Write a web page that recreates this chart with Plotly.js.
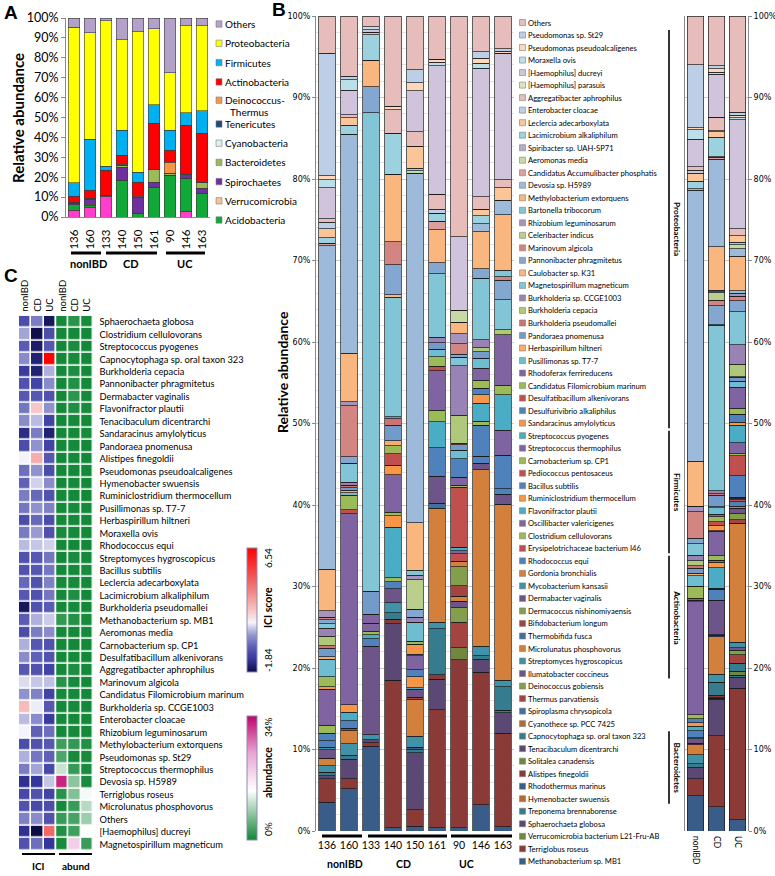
<!DOCTYPE html>
<html><head><meta charset="utf-8">
<script src="https://cdn.plot.ly/plotly-3.0.1.min.js"></script>
<style>body{margin:0;background:#fff}#chart{width:775px;height:876px}</style>
</head><body><div id="chart"></div>
<script>
// ---------------- DATA ----------------
const samples = ['136','160','133','140','150','161','90','146','163'];
const groups = ['nonIBD','CD','UC'];

// Panel A: phylum-level relative abundance (%), samples in order above
const phyla = ['Euryarchaeota','Acidobacteria','Verrucomicrobia','Spirochaetes','Bacteroidetes','Cyanobacteria','Tenericutes','Deinococcus-Thermus','Actinobacteria','Firmicutes','Proteobacteria','Others'];
const aEury    = [3.5, 5.0, 10.5, 0, 0, 0, 0, 3.0, 0];
const aAcido   = [2.7, 1.0, 0.5, 18.5, 2.0, 15.0, 21.0, 16.5, 12.0];
const aVerruco = [0, 0.5, 0, 0, 0, 0, 0, 0, 0];
const aSpiro   = [0.7, 2.5, 0, 6.5, 8.0, 2.5, 0, 2.0, 2.5];
const aBactero = [0.5, 0.5, 0, 1.0, 0, 6.5, 1.0, 0, 3.0];
const aCyano   = [0, 0, 0, 0, 0, 0, 0, 0, 0];
const aTeneri  = [0, 0, 0, 0, 0, 0, 0, 0, 0];
const aDeino   = [0, 0, 0, 0.5, 0.5, 0, 5.5, 0, 0];
const aActino  = [3.0, 4.0, 12.5, 4.5, 7.0, 23.0, 6.0, 24.5, 24.5];
const aFirmi   = [6.8, 25.5, 2.0, 12.5, 5.0, 9.5, 10.0, 6.5, 11.5];
const aProteo  = [78.2, 53.5, 73.0, 45.5, 70.5, 38.0, 29.0, 43.5, 42.5];
const aOthers  = [4.6, 7.5, 1.5, 11.0, 7.0, 5.5, 27.5, 4.0, 4.0];

// Panel B/D: species, listed from bottom of the stack to the top
const species = ['Methanobacterium sp. MB1','Terriglobus roseus','Verrucomicrobia bacterium L21-Fru-AB','Sphaerochaeta globosa','Treponema brennaborense','Hymenobacter swuensis','Rhodothermus marinus','Alistipes finegoldii','Solitalea canadensis','Tenacibaculum dicentrarchi','Capnocytophaga sp. oral taxon 323','Cyanothece sp. PCC 7425','Spiroplasma chrysopicola','Thermus parvatiensis','Deinococcus gobiensis','Ilumatobacter coccineus','Streptomyces hygroscopicus','Microlunatus phosphovorus','Thermobifida fusca','Bifidobacterium longum','Dermacoccus nishinomiyaensis','Dermabacter vaginalis','Mycobacterium kansasii','Gordonia bronchialis','Rhodococcus equi','Erysipelotrichaceae bacterium I46','Clostridium cellulovorans','Oscillibacter valericigenes','Flavonifractor plautii','Ruminiclostridium thermocellum','Bacillus subtilis','Pediococcus pentosaceus','Carnobacterium sp. CP1','Streptococcus thermophilus','Streptococcus pyogenes','Sandaracinus amylolyticus','Desulfurivibrio alkaliphilus','Desulfatibacillum alkenivorans','Candidatus Filomicrobium marinum','Rhodoferax ferrireducens','Pusillimonas sp. T7-7','Herbaspirillum hiltneri','Pandoraea pnomenusa','Burkholderia pseudomallei','Burkholderia cepacia','Burkholderia sp. CCGE1003','Magnetospirillum magneticum','Caulobacter sp. K31','Pannonibacter phragmitetus','Marinovum algicola','Celeribacter indicus','Rhizobium leguminosarum','Bartonella tribocorum','Methylobacterium extorquens','Devosia sp. H5989','Candidatus Accumulibacter phosphatis','Aeromonas media','Spiribacter sp. UAH-SP71','Lacimicrobium alkaliphilum','Leclercia adecarboxylata','Enterobacter cloacae','Aggregatibacter aphrophilus','[Haemophilus] parasuis','[Haemophilus] ducreyi','Moraxella ovis','Pseudomonas pseudoalcaligenes','Pseudomonas sp. St29','Others'];

// per-sample species abundance (%), same order as species
const s136 = [3.5,2.9,0,0.4,0.4,0,0,0,0,0, 0,0,0,0,0,0,0.8,0.9,0,0, 0,1.1,0.3,0,0.8,0,0,0,0,0, 0.9,0,1.0,4.4,0,0.3,0,0,1.2,0, 2.2,0.3,1.0,0.3,1.2,1.0,0.5,0,0.5,0.3, 0,0.8,0,5.1,39.7,0.3,0,0,0.7,1.1, 0.8,0.4,0,3.8,1.0,0.5,15.0,4.6];
const s160 = [5.2,1.2,0,2.4,0.5,0,0,0,0,0, 0,0,0,0,0,0,1.4,1.6,0,0.3, 0,0,0,0,0.9,0,0,0,1.1,0.9, 0,0,0,23.4,0,0,0,0.5,1.8,0, 0.3,0.3,0.3,0.3,0,0.4,2.3,0,0.8,6.3, 0,0.5,0,5.9,26.9,0,0,0,1.1,0.9, 0,0.4,0,3.0,1.3,0,0.4,7.4];
const s133 = [10.4,0.4,0,0.4,0,0,0,0,0,0, 0,0,0,0,0,0,0.6,0,0,0, 0,10.9,0,0,0.9,0,0,0,0.5,0, 0,0,0.4,1.0,0,0,0,0,0,1.1, 0,0,2.8,0,0,0,58.7,0,3.2,0, 0,0,0,3.3,0,0,0,0,3.1,0, 0,0.3,0,0.3,0.4,0,0,1.3];
const s140 = [0.4,18.1,0,6.9,0,0,0,0.6,0,0, 0.8,0,0,0,0,0,1.2,0,0,0, 0,1.7,0,0,0.9,0,0.5,0,6.2,1.4, 0,0,0.4,4.6,0,1.2,0,1.4,1.0,0, 0,0.6,1.9,0.8,0,0.2,14.7,0.3,3.7,2.8, 0,0,0,8.3,0,0,0,0,5.0,0, 0,2.9,0,0,0,0.4,0,11.1];
const s150 = [0.6,2.0,0,7.0,0.4,0,0.3,0,0,0, 0,0,0,0,0,0,1.3,4.5,0,0.3, 0,1.0,0,0,0,0,0,0,0.2,1.3, 0.9,0,0,1.7,0.2,1.2,0,0,0.4,0, 2.3,0,0,0,0,0.6,0,0,1.0,0, 3.6,0.6,0.6,5.8,42.9,0,0.3,0,0.3,2.7, 0,1.8,0,5.0,0,1.0,1.6,6.6];
const s161 = [0.4,14.5,0,3.7,0,0,0,0.6,0,0, 5.6,0,0,0,0,0,0.8,14.0,0.6,0, 0,3.3,0,0,3.5,0,0,0,3.2,0, 0,0,1.4,4.9,0,0,0,0.5,1.2,0, 0.9,0,0.8,0,0,0.7,7.8,0,1.3,0, 0,0,0,4.1,0,1.0,0,0,1.0,0, 0.5,1.8,0,15.8,0.4,0.4,0,5.3];
const s90  = [0.4,20.6,0,0,0,0,0,0,1.5,0, 0,0,0,3.1,1.8,0.8,0,0.6,0,1.3, 2.3,0,0,0.7,0,0.9,0,0.4,0.4,0, 0,7.4,0.2,1.0,0,0,2.3,0,0,0, 1.0,0,0.7,0.2,3.4,6.1,1.0,0,0.4,1.3, 0,1.2,0,1.4,0,0,1.5,0,0,0, 0,0,0,9.0,0,0,0,27.1];
const s146 = [3.2,16.3,0,1.6,0.4,0,0,0,0,0, 0,0,0,0,0,0,1.2,21.6,0,0, 0,0.8,0,0,0.9,0,0,0,0,0, 3.8,0,0.5,0,2.2,1.0,0.8,0,1.0,1.5, 1.2,0,0.8,0,0.5,1.0,7.5,0,1.2,0, 0,0,0,4.5,1.0,0,0,0,1.0,0.8, 0,1.5,0,15.8,0.6,0.6,0.8,4.4];
const s163 = [0.5,11.5,0,2.5,0.3,0,0,0,0,0, 2.9,0,0,0,0,0,0.8,21.6,0,0, 0,1.2,0,0,0.7,0,0,0,0,0, 4.1,0,0,3.1,4.3,0,0,0,1.2,6.2, 0,0,0,0,0.6,0,3.7,0,2.4,0.4, 0,0,0.8,6.8,1.8,0,0,0,0,1.5, 0,1.0,0,15.5,0,0.3,0.3,4.0];

// group bars (right panel)
const gNonIBD = [4.35,2.05,0,1.4,0.45,0,0,0,0,0, 0,0,0,0,0,0,1.1,1.25,0,0.15, 0,0.55,0.15,0,0.85,0,0,0,0.55,0.45, 0.45,0,0.5,13.9,0,0.15,0,0.25,1.5,0, 1.25,0.3,0.65,0.3,0.6,0.7,1.4,0,0.65,3.3, 0,0.65,0,5.5,33.3,0.15,0,0,0.9,1.0, 0.4,0.4,0,3.4,1.15,0.25,7.7,6.0];
const gCD     = [2.95,8.75,0,4.5,0.1,0,0.08,0.3,0,0, 1.6,0,0,0,0,0,0.98,4.63,0.15,0.08, 0,4.23,0,0,1.33,0,0.13,0,2.53,0.68, 0.23,0,0.55,3.05,0.05,0.6,0,0.48,0.65,0.28, 0.8,0.15,1.38,0.2,0,0.38,20.3,0.08,2.3,0.7, 0.9,0.15,0.15,5.38,10.73,0.25,0.08,0,2.35,0.68, 0.13,1.7,0,5.28,0.2,0.45,0.4,6.08];
const gUC     = [1.37,16.13,0,1.37,0.23,0,0,0,0.5,0, 0.97,0,0,1.03,0.6,0.27,0.67,14.6,0,0.43, 0.77,0.67,0,0.23,0.53,0.3,0,0.13,0.13,0, 2.63,2.47,0.23,1.37,2.17,0.33,1.03,0,0.73,2.57, 0.73,0,0.5,0.07,1.5,2.37,4.07,0,1.33,0.57, 0,0.4,0.27,4.23,0.93,0,0.5,0,0.33,0.77, 0,0.83,0,13.43,0.2,0.3,0.37,11.83];

// phylum brackets in legend B (first / last species in each group)
const bracketNames = ['Proteobacteria','Firmicutes','Actinobacteria','Bacteroidetes'];
const bracketFrom  = ['Pseudomonas sp. St29','Streptococcus pyogenes','Rhodococcus equi','Capnocytophaga sp. oral taxon 323'];
const bracketTo    = ['Sandaracinus amylolyticus','Erysipelotrichaceae bacterium I46','Ilumatobacter coccineus','Hymenobacter swuensis'];

// Panel C heatmap
const hmNames = ['Sphaerochaeta globosa','Clostridium cellulovorans','Streptococcus pyogenes','Capnocytophaga sp. oral taxon 323','Burkholderia cepacia','Pannonibacter phragmitetus','Dermabacter vaginalis','Flavonifractor plautii','Tenacibaculum dicentrarchi','Sandaracinus amylolyticus','Pandoraea pnomenusa','Alistipes finegoldii','Pseudomonas pseudoalcaligenes','Hymenobacter swuensis','Ruminiclostridium thermocellum','Pusillimonas sp. T7-7','Herbaspirillum hiltneri','Moraxella ovis','Rhodococcus equi','Streptomyces hygroscopicus','Bacillus subtilis','Leclercia adecarboxylata','Lacimicrobium alkaliphilum','Burkholderia pseudomallei','Methanobacterium sp. MB1','Aeromonas media','Carnobacterium sp. CP1','Desulfatibacillum alkenivorans','Aggregatibacter aphrophilus','Marinovum algicola','Candidatus Filomicrobium marinum','Burkholderia sp. CCGE1003','Enterobacter cloacae','Rhizobium leguminosarum','Methylobacterium extorquens','Pseudomonas sp. St29','Streptococcus thermophilus','Devosia sp. H5989','Terriglobus roseus','Microlunatus phosphovorus','Others','[Haemophilus] ducreyi','Magnetospirillum magneticum'];
const hmCols = ['nonIBD','CD','UC','nonIBD','CD','UC'];
const iciNonIBD = [-0.5,0.8,-0.2,0.5,-0.9,-0.4,-0.3,0.2,0.5,-1.2,-0.5,1.5,0.1,-0.1,0.3,0.2,-0.5,0.25,1.0,-0.4,-0.4,0.0,-0.3,-1.6,-0.2,-0.5,0.9,0.5,-0.3,1.3,0.6,2.5,1.0,1.5,-0.5,0.9,0.3,-1.1,-0.6,-0.4,0.35,-1.1,-0.4];
const iciCD     = [0.3,-1.8,-1.5,-1.4,-1.4,-0.7,-0.3,2.3,1.0,0.3,0.6,2.8,0.6,1.2,0.0,0.6,0.0,0.7,1.1,-0.3,-0.3,-0.4,-0.4,-0.4,0.9,0.3,-0.3,-0.1,-0.4,1.1,0.35,1.45,0.5,-0.1,-0.4,0.2,0.8,-1.0,-0.4,-0.6,0.5,-1.84,0.1];
const iciUC     = [-1.6,-0.5,-0.3,6.54,0.9,0.5,-0.4,0.6,-0.7,-1.4,-0.7,-0.3,-0.5,0.5,-0.4,0.35,-0.5,-0.4,1.2,0.2,0.2,0.35,0.2,-0.2,1.15,0.5,-0.4,-0.4,-0.7,1.05,-0.7,-0.3,-0.9,0.1,-0.3,-0.1,-0.6,1.1,-0.7,-0.5,-0.4,4.2,-1.0];
const abNonIBD  = [0.3,0.2,0.2,0.2,0.3,0.3,0.2,0.3,0.2,0.2,0.3,0.2,0.3,0.2,0.3,0.4,0.3,0.5,0.3,0.2,0.3,0.4,0.3,0.3,2.0,0.3,0.3,0.3,0.3,1.4,0.4,0.3,0.4,0.3,2.6,3.5,10.5,32.0,1.5,0.4,2.4,1.0,0.5];
const abCD      = [1.5,0.3,0.6,0.5,0.8,1.0,1.6,0.9,0.4,0.3,0.4,0.3,0.2,0.4,0.3,0.5,0.3,0.3,0.2,0.6,0.3,0.5,0.9,0.4,1.2,0.3,0.2,0.3,0.8,0.4,0.3,0.4,0.3,0.4,2.0,0.4,2.2,7.0,6.5,2.4,3.2,2.8,19.0];
const abUC      = [0.5,0.2,0.2,0.2,0.3,0.3,0.4,0.5,0.3,0.5,0.2,0.3,0.2,0.2,0.2,0.3,0.2,0.2,0.2,0.3,0.6,0.3,0.3,0.2,0.5,0.4,0.3,0.2,0.3,0.3,0.2,0.2,0.3,0.3,1.0,0.5,0.6,0.6,13.0,9.5,8.0,13.6,2.4];
const iciRange = [-1.84, 6.54];
const abRange = [0, 34];

// ---------------- STYLE / BUILD ----------------
const W = 775, H = 876;
const F = 'Lato, "Liberation Sans", Arial, sans-serif';
const FT = '"DejaVu Sans", Verdana, sans-serif';
const px = x => x / W, py = y => 1 - y / H;

const phylumColors = ['#ff3fcb','#12a838','#fac090','#7030a0','#9bbb59','#dbeef4','#1f497d','#f79646','#ff0000','#00b0f0','#ffff00','#b3a2c7'];

const base = ['#4F81BD','#C0504D','#9BBB59','#8064A2','#4BACC6','#F79646'];
function shade(hex, t) {
  const n = parseInt(hex.slice(1), 16);
  let c = [(n >> 16) & 255, (n >> 8) & 255, n & 255];
  c = c.map(v => t < 0 ? Math.round(v * (1 + t)) : Math.round(v + (255 - v) * t));
  return 'rgb(' + c.join(',') + ')';
}
function bandT(s) {
  if (s <= 12) return -0.28;
  if (s <= 24) return -0.15;
  if (s <= 40) return 0;
  if (s <= 46) return 0.2;
  if (s <= 54) return 0.3;
  if (s <= 60) return 0.45;
  return 0.62;
}
const spColors = species.map((_, k) => shade(base[k % 6], bandT(k + 1)));

const traces = [];
const phylumData = [aEury, aAcido, aVerruco, aSpiro, aBactero, aCyano, aTeneri, aDeino, aActino, aFirmi, aProteo, aOthers];
phyla.forEach((name, i) => {
  traces.push({type:'bar', x:samples, y:phylumData[i], name, width:0.74,
    marker:{color:phylumColors[i], line:{color:'#3c3c3c', width:0.6}},
    xaxis:'x', yaxis:'y', hoverinfo:'skip'});
});
const bSamples = [s136, s160, s133, s140, s150, s161, s90, s146, s163];
species.forEach((name, k) => {
  traces.push({type:'bar', x:samples, y:bSamples.map(a => a[k]), name, width:0.75,
    marker:{color:spColors[k], line:{color:'#1b1b1b', width:0.7}},
    xaxis:'x2', yaxis:'y2', hoverinfo:'skip'});
  traces.push({type:'bar', x:groups, y:[gNonIBD[k], gCD[k], gUC[k]], name, width:0.8,
    marker:{color:spColors[k], line:{color:'#1b1b1b', width:0.7}},
    xaxis:'x3', yaxis:'y3', hoverinfo:'skip'});
});

const iciScale = [[0,'#0d0d45'],[0.1,'#34369a'],[0.2,'#5b5db5'],[0.3,'#9597cf'],[0.4,'#f4f4fa'],[0.5,'#f7c4c4'],[0.7,'#f07070'],[1,'#ff0000']];
const abScale = [[0,'#0f8635'],[0.4,'#ffffff'],[0.7,'#e8a6d2'],[1,'#c0046c']];
const cbCommon = {xanchor:'left', yanchor:'top', len:124, lenmode:'pixels', thickness:10, thicknessmode:'pixels',
  outlinewidth:1, outlinecolor:'#8a8cb0', showticklabels:false, ticks:'', xpad:0, ypad:0};
traces.push({type:'heatmap', x:[0,1,2], y:hmNames, z:hmNames.map((_, r) => [iciNonIBD[r], iciCD[r], iciUC[r]]),
  zmin:iciRange[0], zmax:iciRange[1], colorscale:iciScale, xgap:1.6, ygap:1.6, xaxis:'x4', yaxis:'y4', hoverinfo:'skip',
  colorbar:Object.assign({x:px(247), y:py(548)}, cbCommon)});
traces.push({type:'heatmap', x:[3,4,5], y:hmNames, z:hmNames.map((_, r) => [abNonIBD[r], abCD[r], abUC[r]]),
  zmin:abRange[0], zmax:abRange[1], colorscale:abScale, xgap:1.6, ygap:1.6, xaxis:'x4', yaxis:'y4', hoverinfo:'skip',
  colorbar:Object.assign({x:px(247), y:py(716)}, cbCommon)});

const annotations = [], shapes = [];
function ann(text, x, y, o) {
  o = o || {};
  annotations.push({xref:'paper', yref:'paper', x:px(x), y:py(y), text, showarrow:false,
    xanchor:o.xa || 'center', yanchor:'middle', textangle:o.rot || 0, borderpad:0,
    font:{family:o.family || F, size:o.size || 10, color:'#000', weight:o.bold ? 'bold' : 'normal'}});
}
function line(x0, y0, x1, y1, w, c) {
  shapes.push({type:'line', xref:'paper', yref:'paper', x0:px(x0), y0:py(y0), x1:px(x1), y1:py(y1), line:{color:c || '#000', width:w}});
}
function rect(x0, y0, x1, y1, fill) {
  shapes.push({type:'rect', xref:'paper', yref:'paper', x0:px(x0), y0:py(y0), x1:px(x1), y1:py(y1), fillcolor:fill, line:{color:'#808080', width:0.6}});
}

// panel letters
ann('A', 3, 12, {xa:'left', size:19, bold:true, family:'"Liberation Sans", Arial, sans-serif'});
ann('B', 271, 10, {xa:'left', size:19, bold:true, family:'"Liberation Sans", Arial, sans-serif'});
ann('C', 3, 276, {xa:'left', size:19, bold:true, family:'"Liberation Sans", Arial, sans-serif'});

// Panel A titles / legend
ann('Relative abundance', 18, 118, {rot:-90, size:15, bold:true});
[[groups[0], 88, 71, 101], [groups[1], 131, 106, 157], [groups[2], 185, 166, 205]].forEach(g => {
  ann(g[0], g[1], 263, {size:11, bold:true});
  line(g[2], 253, g[3], 253, 3);
});
const aLegendOrder = [11,10,9,8,7,6,5,4,3,2,1];
const aLegendY = [24, 43.3, 62.6, 81.9, 100.2, 124, 143.2, 162.4, 181.6, 200.8, 220];
aLegendOrder.forEach((pi, i) => {
  const y = aLegendY[i];
  rect(216, y - 3.2, 222, y + 3.2, phylumColors[pi]);
  if (phyla[pi] === 'Deinococcus-Thermus') {
    ann('Deinococcus-', 224, y, {xa:'left', size:10});
    ann('Thermus', 229, y + 11.6, {xa:'left', size:10});
  } else {
    ann(phyla[pi], 224, y, {xa:'left', size:10});
  }
});

// Panel B titles, groups, legend
ann('Relative abundance', 283, 372, {rot:-90, size:14, bold:true});
[[groups[0], 345, 322, 362], [groups[1], 404, 368, 447], [groups[2], 467, 451, 512]].forEach(g => {
  ann(g[0], g[1], 864, {size:10.5, bold:true});
  line(g[2], 836, g[3], 836, 3);
});
const legY = j => 22.5 + j * 12.52;
for (let j = 0; j < species.length; j++) {
  const k = species.length - 1 - j;
  const y = legY(j);
  rect(519.5, y - 3, 525.5, y + 3, spColors[k]);
  ann(species[k], 527, y, {xa:'left', size:7.6});
}
bracketNames.forEach((nm, i) => {
  const j0 = species.length - 1 - species.indexOf(bracketFrom[i]);
  const j1 = species.length - 1 - species.indexOf(bracketTo[i]);
  const y0 = legY(j0) - 5, y1 = legY(j1) + 5;
  line(669, y0, 669, y1, 1.6);
  ann(nm, 677, (y0 + y1) / 2, {rot:90, size:8.2, bold:true});
});

// Panel C labels / colorbar captions
line(22, 854, 55, 854, 2);
line(59, 854, 92, 854, 2);
ann('ICI', 38, 866, {size:10, bold:true});
ann('abund', 76, 866, {size:10, bold:true});
ann(String(iciRange[1]), 268, 558, {rot:-90, size:10});
ann('ICI score', 268, 608, {rot:-90, size:10.5, bold:true});
ann(String(iciRange[0]), 268, 660, {rot:-90, size:10});
ann(abRange[1] + '%', 268, 727, {rot:-90, size:10});
ann('abundance', 268, 773, {rot:-90, size:10.5, bold:true});
ann(abRange[0] + '%', 268, 829, {rot:-90, size:10});

const gray = '#8a8a8a';
const layout = {
  width:W, height:H, margin:{l:0, r:0, t:0, b:0},
  paper_bgcolor:'#fff', plot_bgcolor:'rgba(0,0,0,0)',
  barmode:'stack', barnorm:'percent', showlegend:false,
  font:{family:F, color:'#000'},
  xaxis:{domain:[px(66), px(210)], anchor:'y', type:'category', tickangle:-90, tickfont:{size:11.5},
    showline:true, linecolor:gray, ticks:'', ticklabelstandoff:7, fixedrange:true},
  yaxis:{domain:[py(217), py(18)], anchor:'x', range:[0,100], dtick:10, ticksuffix:'%', showline:true, linecolor:gray,
    ticks:'outside', ticklen:4, tickcolor:gray, tickfont:{size:12.5}, showgrid:false, zeroline:false},
  xaxis2:{domain:[px(316), px(514)], anchor:'y2', type:'category', tickfont:{size:10.5}, ticks:'', showline:false, ticklabelstandoff:6},
  yaxis2:{domain:[py(831), py(16)], anchor:'x2', range:[0,100], dtick:10, ticksuffix:'%', tickfont:{family:FT, size:8},
    showgrid:true, gridcolor:'#bdbdbd', gridwidth:0.8,
    minor:{dtick:2, showgrid:true, gridcolor:'#d2d2d2', gridwidth:0.6},
    showline:true, linecolor:gray, ticks:'outside', ticklen:3, tickcolor:gray, zeroline:false},
  xaxis3:{domain:[px(685), px(748)], anchor:'y3', type:'category', tickangle:90, tickfont:{size:8.5}, ticks:'', ticklabelstandoff:4},
  yaxis3:{domain:[py(831), py(16)], anchor:'x3', side:'right', range:[0,100], dtick:10, ticksuffix:'%', tickfont:{family:FT, size:8},
    showgrid:true, gridcolor:'#c8c8c8', showline:true, mirror:true, linecolor:gray, ticks:'outside', ticklen:3, tickcolor:gray, zeroline:false},
  xaxis4:{domain:[px(19), px(93.5)], anchor:'y4', side:'top', range:[-0.5,5.5], tickvals:[0,1,2,3,4,5], ticktext:hmCols,
    tickangle:-90, tickfont:{size:9.5}, ticks:'', showgrid:false, zeroline:false, showline:false, ticklabelstandoff:3},
  yaxis4:{domain:[py(850.5), py(315.8)], anchor:'x4', side:'right', type:'category', autorange:'reversed',
    tickfont:{size:9.3}, ticks:'', showgrid:false, showline:false, zeroline:false, ticklabelstandoff:5},
  annotations, shapes
};

Plotly.newPlot('chart', traces, layout, {staticPlot:true, displayModeBar:false});
</script></body></html>
